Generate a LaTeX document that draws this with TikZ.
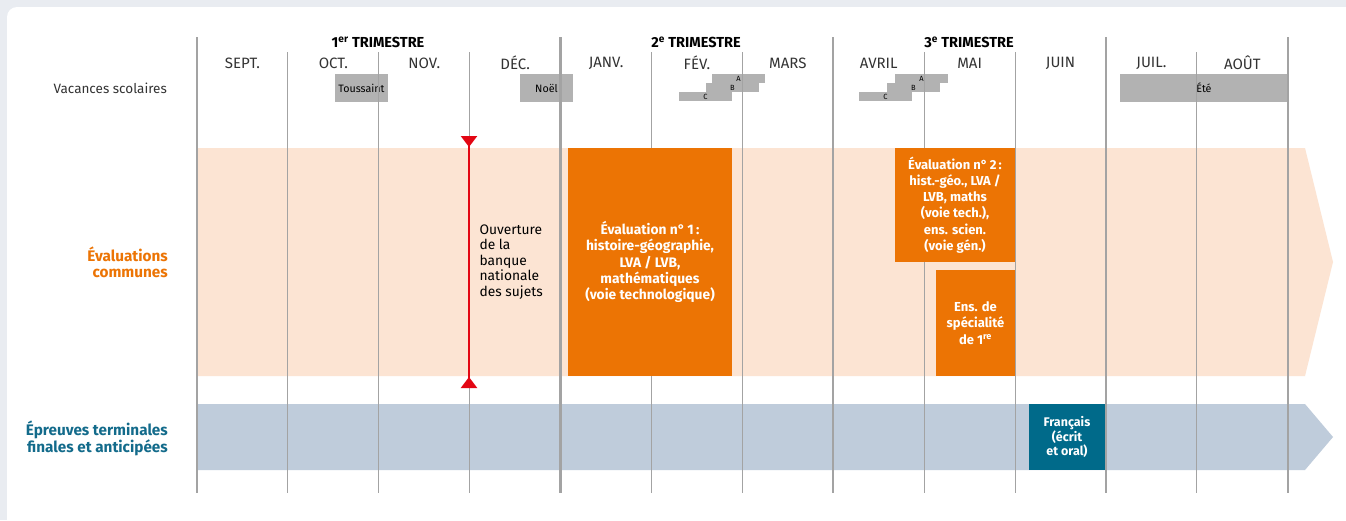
\documentclass[tikz,border=0pt]{standalone}
\usepackage{fontspec}
\setmainfont{Fira Sans}
\usetikzlibrary{arrows.meta}

\definecolor{pagebg}{HTML}{E9ECF1}
\definecolor{gridgray}{HTML}{A3A3A3}
\definecolor{vacgray}{HTML}{B2B2B2}
\definecolor{peach}{HTML}{FCE4D3}
\definecolor{evalorange}{HTML}{EC7404}
\definecolor{bandblue}{HTML}{BFCCDB}
\definecolor{frteal}{HTML}{006A8A}
\definecolor{labteal}{HTML}{136B8B}
\definecolor{banqred}{HTML}{E30613}
\definecolor{txtdark}{HTML}{333333}

\tikzset{
  month/.style={font=\fontsize{15}{17}\selectfont, text=txtdark},
  trim/.style={font=\bfseries\fontsize{14.5}{17}\selectfont, text=black},
  vac/.style={fill=vacgray, inner sep=0pt, font=\fontsize{10.7}{12}\selectfont, text=black},
  vacsmall/.style={vac, minimum width=53pt, minimum height=9pt, font=\fontsize{7.5}{8}\selectfont},
  evalbox/.style={fill=evalorange, text=white, inner sep=0pt, align=center,
    font=\bfseries\fontsize{13}{16.2}\selectfont},
  rowlab/.style={align=right, anchor=east, inner sep=0pt, font=\bfseries\fontsize{15.3}{16}\selectfont},
  thinline/.style={draw=gridgray, line width=1.1pt},
  thickline/.style={draw=gridgray, line width=2.3pt},
}

\begin{document}
\begin{tikzpicture}[x=1pt, y=-1pt]
  \useasboundingbox (0,0) rectangle (1346,520);
  \fill[pagebg] (0,0) rectangle (1346,520);
  \fill[white, rounded corners=10pt] (7,7) rectangle (1370,545);

  % vacances
  \node[month, anchor=east, inner sep=0pt, font=\fontsize{13.5}{15}\selectfont] (vacl) at (167,88) {Vacances scolaires};
  \node[vac, minimum width=53pt, minimum height=28pt] (touss) at (361.5,88) {Toussaint};
  \node[vac, minimum width=53pt, minimum height=28pt] (noel) at (546.5,88) {Noël};
  \node[vacsmall] (fevA) at (738.5,78.5) {A};
  \node[vacsmall] (fevB) at (732.5,87.5) {B};
  \node[vacsmall] (fevC) at (705.5,96.5) {C};
  \node[vacsmall] (avrA) at (921.5,78.5) {A};
  \node[vacsmall] (avrB) at (913.5,87.5) {B};
  \node[vacsmall] (avrC) at (885.5,96.5) {C};
  \node[vac, minimum width=168pt, minimum height=28pt] (ete) at (1204,88) {Été};

  % bandes
  \fill[peach] (197,148) -- (1305,148) -- (1333,262) -- (1305,376) -- (197,376) -- cycle;
  \fill[bandblue] (197,404) -- (1305,404) -- (1333,437) -- (1305,470) -- (197,470) -- cycle;

  % grille des mois
  \foreach \i in {1,2,3,5,6,8,9,11}
    \draw[thinline] ({197+90.9*\i},52) -- ({197+90.9*\i},493);
  \foreach \i in {0,4,7,10,12}
    \draw[thickline] ({197+90.9*\i},37) -- ({197+90.9*\i},493);

  \foreach \m [count=\i from 0] in {SEPT.,OCT.,NOV.,DÉC.,JANV.,FÉV.,MARS,AVRIL,MAI,JUIN,JUIL.,AOÛT}
    \node[month] (m\i) at ({197+90.9*(\i+0.5)},63) {\m};

  \node[trim] (tri1) at (378,42) {1\textsuperscript{er} TRIMESTRE};
  \node[trim] (tri2) at (696,42) {2\textsuperscript{e} TRIMESTRE};
  \node[trim] (tri3) at (969,42) {3\textsuperscript{e} TRIMESTRE};

  % lignes
  \node[rowlab, text=evalorange] (evlab) at (168,262) {Évaluations\\communes};
  \node[rowlab, text=labteal] (eplab) at (168,438) {Épreuves terminales\\finales et anticipées};

  % evaluations
  \node[evalbox, minimum width=164pt, minimum height=228pt, font=\bfseries\fontsize{13.8}{16.3}\selectfont] (eval1) at (650,262)
    {Évaluation n°\,1\,:\\histoire-géographie,\\LVA / LVB,\\mathématiques\\(voie technologique)};
  \node[evalbox, minimum width=120pt, minimum height=114pt] (eval2) at (955,205)
    {Évaluation n°\,2\,:\\hist.-géo., LVA /\\LVB, maths\\(voie tech.),\\ens. scien.\\(voie gén.)};
  \node[evalbox, minimum width=79pt, minimum height=106pt] (spe) at (975.5,323)
    {Ens. de\\spécialité\\de 1\textsuperscript{re}};
  \node[evalbox, fill=frteal, minimum width=76pt, minimum height=66pt,
    font=\bfseries\fontsize{12.5}{14.2}\selectfont] (fr) at (1067,437)
    {Français\\(écrit\\et oral)};

  % banque nationale
  \coordinate (rtop) at (469,136);
  \coordinate (rbot) at (469,388);
  \draw[banqred, line width=2.4pt, {Triangle[reversed, length=11pt, width=16pt]}-{Triangle[reversed, length=11pt, width=16pt]}] (rtop) -- (rbot);
  \node[month, anchor=west, align=left, text=black, font=\fontsize{13.8}{15.6}\selectfont] (banq) at (476,262)
    {Ouverture\\de la\\banque\\nationale\\des sujets};
\end{tikzpicture}
\end{document}
